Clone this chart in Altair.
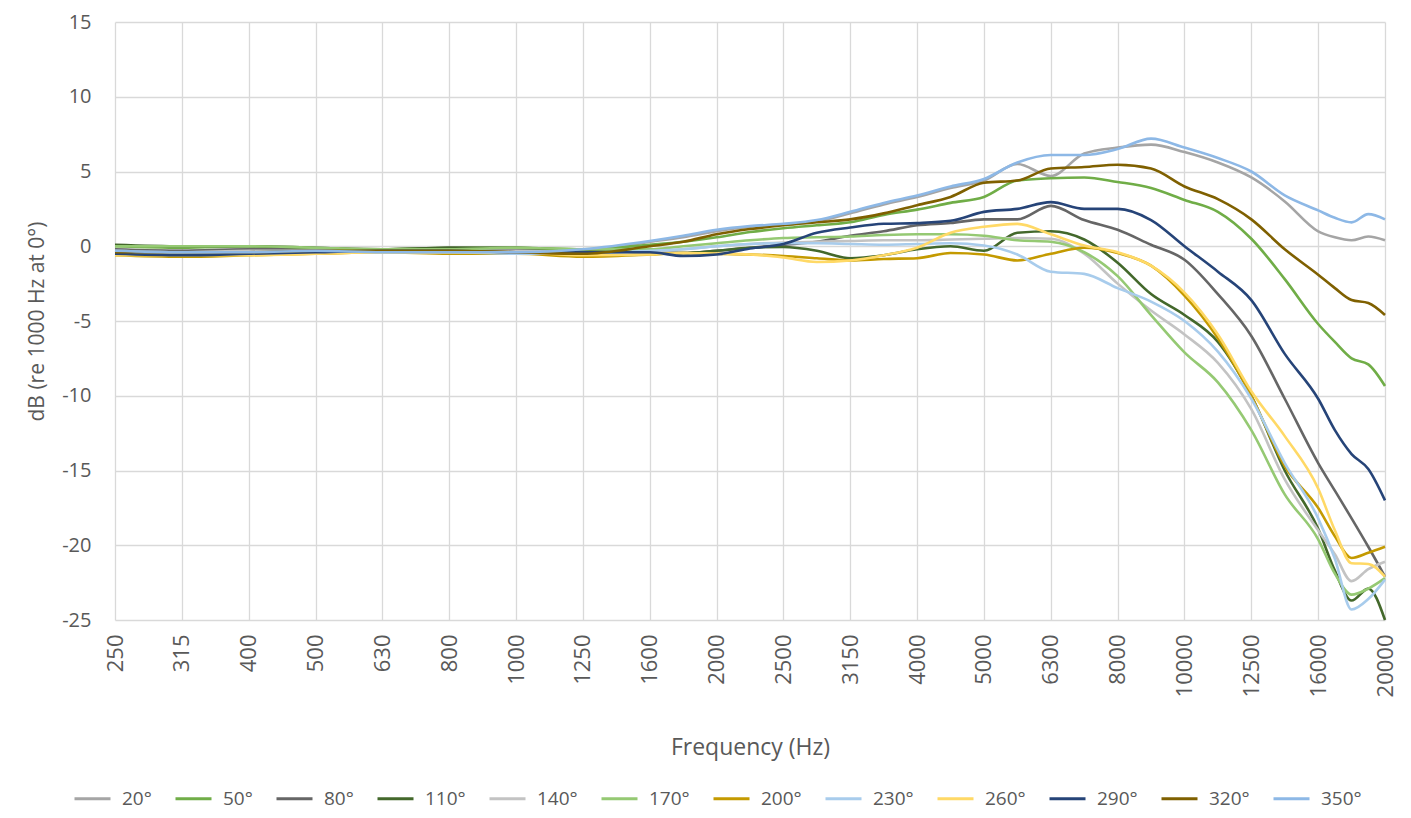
import altair as alt
import pandas as pd

BANDS = ["250", "315", "400", "500", "630", "800", "1000", "1250", "1600", "2000",
         "2500", "3150", "4000", "5000", "6300", "8000", "10000", "12500", "16000", "20000"]

# positions along the 1/3-octave band axis (0 = 250 Hz ... 19 = 20000 Hz)
POS = [0, 1, 2, 3, 4, 5, 6, 7,
       8, 8.5, 9, 9.5, 10, 10.5, 11, 11.5, 12, 12.5, 13, 13.5, 14, 14.5,
       15, 15.5, 16, 16.5, 17, 17.5, 18, 18.25, 18.5, 18.75, 19]

ANGLES = ["20°", "50°", "80°", "110°", "140°", "170°", "200°", "230°", "260°", "290°", "320°", "350°"]
COLORS = ["#A5A5A5", "#70AD47", "#666666", "#43682B", "#C3C3C3", "#95C973",
          "#C49A00", "#A8CCEC", "#FFD966", "#264478", "#7F6000", "#8DB8E6"]

S20 = [-0.3, -0.3, -0.2, -0.3, -0.3, -0.2, -0.3, -0.4,
       0.3, 0.6, 1.0, 1.3, 1.45, 1.65, 2.2, 2.8, 3.3, 3.9, 4.4, 5.5, 4.7, 6.2,
       6.6, 6.8, 6.3, 5.6, 4.6, 3.0, 1.0, 0.6, 0.4, 0.65, 0.4]
S50 = [0.0, -0.1, 0.0, -0.2, -0.2, -0.1, -0.1, -0.2,
       0.1, 0.3, 0.6, 0.95, 1.2, 1.4, 1.6, 2.1, 2.45, 2.9, 3.3, 4.4, 4.55, 4.6,
       4.3, 3.9, 3.1, 2.3, 0.5, -2.2, -5.2, -6.4, -7.5, -7.9, -9.35]
S80 = [-0.2, -0.3, -0.2, -0.2, -0.3, -0.1, -0.2, -0.3,
       -0.4, -0.45, -0.3, -0.1, 0.1, 0.3, 0.7, 1.0, 1.4, 1.55, 1.8, 1.8, 2.7, 1.75,
       1.1, 0.1, -0.9, -3.2, -6.0, -10.2, -14.5, -16.35, -18.2, -20.1, -22.1]
S110 = [0.1, 0.0, 0.0, -0.1, -0.2, -0.1, -0.1, -0.3,
        -0.4, -0.45, -0.3, -0.1, -0.05, -0.3, -0.8, -0.6, -0.2, 0.0, -0.3, 0.9, 1.0, 0.45,
        -1.1, -3.2, -4.6, -6.4, -10.0, -15.0, -18.9, -21.7, -23.7, -22.9, -25.0]
S140 = [-0.3, -0.4, -0.3, -0.3, -0.3, -0.3, -0.3, -0.4,
        -0.35, -0.2, 0.0, 0.15, 0.25, 0.3, 0.35, 0.4, 0.4, 0.45, 0.5, 0.55, 0.5, -0.5,
        -2.5, -4.3, -5.9, -7.8, -10.9, -15.6, -19.0, -20.6, -22.4, -21.6, -21.1]
S170 = [0.0, 0.0, 0.0, -0.1, -0.2, -0.2, -0.1, -0.2,
        -0.2, 0.0, 0.2, 0.4, 0.55, 0.6, 0.65, 0.75, 0.8, 0.8, 0.7, 0.4, 0.3, -0.4,
        -2.0, -4.6, -7.1, -9.1, -12.3, -16.6, -19.6, -21.9, -23.3, -22.9, -22.2]
S200 = [-0.6, -0.7, -0.6, -0.5, -0.4, -0.5, -0.5, -0.7,
        -0.55, -0.45, -0.5, -0.55, -0.65, -0.8, -0.95, -0.85, -0.8, -0.45, -0.55, -0.95, -0.5, -0.1,
        -0.45, -1.3, -3.3, -6.15, -10.0, -14.7, -17.5, -19.4, -20.85, -20.5, -20.1]
S230 = [-0.4, -0.5, -0.4, -0.4, -0.4, -0.4, -0.5, -0.5,
        -0.3, -0.2, 0.0, 0.15, 0.2, 0.2, 0.15, 0.1, 0.15, 0.2, 0.05, -0.55, -1.7, -1.85,
        -2.8, -3.7, -5.0, -7.05, -10.2, -14.5, -18.2, -20.9, -24.3, -23.6, -22.3]
S260 = [-0.6, -0.6, -0.6, -0.5, -0.4, -0.4, -0.4, -0.6,
        -0.55, -0.45, -0.5, -0.55, -0.75, -1.05, -0.95, -0.6, -0.1, 0.9, 1.3, 1.5, 0.8, 0.05,
        -0.4, -1.3, -3.1, -5.9, -9.7, -12.7, -16.2, -19.0, -21.2, -21.25, -22.1]
S290 = [-0.5, -0.6, -0.5, -0.4, -0.3, -0.3, -0.4, -0.4,
        -0.4, -0.65, -0.55, -0.15, 0.15, 0.9, 1.25, 1.5, 1.55, 1.7, 2.3, 2.5, 2.95, 2.5,
        2.5, 1.75, 0.0, -1.7, -3.6, -7.2, -10.2, -12.3, -13.9, -14.9, -17.0]
S320 = [-0.4, -0.4, -0.4, -0.3, -0.3, -0.3, -0.4, -0.5,
        0.0, 0.3, 0.8, 1.15, 1.4, 1.6, 1.8, 2.2, 2.75, 3.3, 4.25, 4.4, 5.2, 5.3,
        5.45, 5.2, 4.0, 3.15, 1.8, -0.2, -1.9, -2.8, -3.6, -3.8, -4.6]
S350 = [-0.3, -0.4, -0.4, -0.3, -0.4, -0.4, -0.4, -0.2,
        0.35, 0.7, 1.1, 1.35, 1.5, 1.75, 2.3, 2.9, 3.4, 4.0, 4.5, 5.6, 6.1, 6.1,
        6.5, 7.2, 6.6, 5.9, 5.0, 3.4, 2.4, 1.9, 1.6, 2.15, 1.8]

SERIES = [S20, S50, S80, S110, S140, S170, S200, S230, S260, S290, S320, S350]

rows = []
for k, (name, vals) in enumerate(zip(ANGLES, SERIES)):
    for p, v in zip(POS, vals):
        rows.append({"pos": p, "db": v, "angle": name, "k": k})
df = pd.DataFrame(rows)

label_expr = "[" + ",".join("'" + b + "'" for b in BANDS) + "][datum.value]"
TXT = "#595959"
FONT = "Open Sans"

chart = alt.Chart(df).mark_line(interpolate="monotone", strokeWidth=2.6).encode(
    x=alt.X("pos:Q",
            scale=alt.Scale(domain=[0, 19], nice=False, zero=False),
            axis=alt.Axis(values=list(range(20)), labelExpr=label_expr, labelAngle=-90,
                          title="Frequency (Hz)", grid=True, domain=False, ticks=False,
                          labelPadding=14, titlePadding=40, labelFontSize=22,
                          titleFontSize=23, labelFlush=False, labelOverlap=False)),
    y=alt.Y("db:Q",
            scale=alt.Scale(domain=[-25, 15], nice=False, zero=False),
            axis=alt.Axis(values=list(range(-25, 20, 5)), labelExpr="'' + datum.value",
                          title="dB (re 1000 Hz at 0°)",
                          grid=True, domain=False, ticks=False, labelPadding=24,
                          titlePadding=14, labelFontSize=20, titleFontSize=21,
                          labelFlush=False)),
    color=alt.Color("angle:N", sort=ANGLES,
                    scale=alt.Scale(domain=ANGLES, range=COLORS),
                    legend=alt.Legend(orient="none", legendX=-42, legendY=757,
                                      direction="horizontal", columns=12, title=None,
                                      symbolType="stroke", symbolSize=1296,
                                      symbolStrokeWidth=3, labelFontSize=19,
                                      labelColor=TXT, labelFont=FONT,
                                      labelOffset=10, columnPadding=17)),
    order=alt.Order("k:Q"),
).properties(
    width=1270, height=598,
    autosize=alt.AutoSizeParams(type="none"),
    padding={"left": 107, "top": 14, "right": 16, "bottom": 190},
).configure_view(
    stroke=None
).configure_axis(
    gridColor="#D9D9D9", gridWidth=1.3, labelColor=TXT, titleColor=TXT,
    labelFont=FONT, titleFont=FONT, titleFontWeight="normal"
)

chart.save("out.html", embed_options={"renderer": "svg", "actions": False})
